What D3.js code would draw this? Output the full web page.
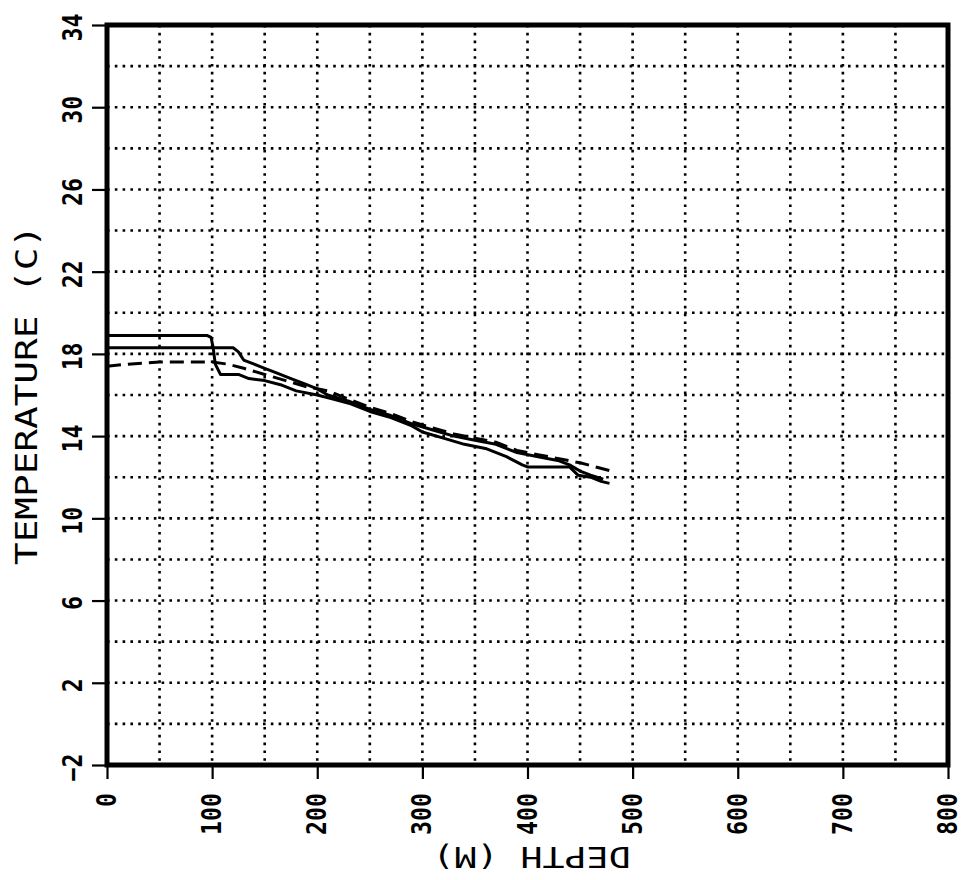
<!DOCTYPE html>
<html><head><meta charset="utf-8">
<script src="https://cdn.jsdelivr.net/npm/d3@7"></script>
<style>body{margin:0;background:#fff}svg{display:block}</style>
</head><body><svg id="c" width="963" height="880"></svg>
<script>
// ---- data ----
const depthTicks = [0,100,200,300,400,500,600,700,800];
const tempTicks = [-2,2,6,10,14,18,22,26,30,34];
const depthGrid = d3.range(0, 801, 50);
const tempGrid = d3.range(-2, 35, 2);
const xTitle = "DEPTH (M)";
const yTitle = "TEMPERATURE (C)";
// series as [depth, temperature]
const seriesA = [[0,18.9],[95,18.9],[99,18.8],[101,18.3],[103,17.5],[108,17.0],[125,17.0],[135,16.8],[150,16.7],[165,16.5],[180,16.2],[200,16.0],[215,15.8],[230,15.6],[250,15.2],[270,14.9],[290,14.5],[300,14.2],[320,13.9],[340,13.6],[360,13.4],[380,13.0],[395,12.6],[400,12.5],[440,12.5],[448,12.1],[460,12.0],[470,11.8],[478,11.7]];
const seriesB = [[0,18.3],[120,18.3],[125,18.1],[130,17.7],[140,17.5],[150,17.3],[160,17.1],[175,16.8],[190,16.5],[200,16.3],[210,16.0],[230,15.7],[250,15.3],[270,15.0],[290,14.6],[310,14.3],[330,14.0],[350,13.8],[370,13.6],[390,13.2],[410,13.0],[430,12.8],[440,12.6],[450,12.3],[460,12.1],[472,11.9]];
const seriesDashed = [[0,17.4],[20,17.5],[50,17.6],[100,17.6],[115,17.5],[130,17.3],[150,17.0],[170,16.7],[190,16.4],[210,16.2],[230,15.8],[250,15.4],[270,15.1],[290,14.7],[310,14.4],[330,14.1],[350,13.9],[370,13.7],[390,13.3],[410,13.1],[430,12.9],[450,12.7],[465,12.5],[480,12.3]];

// ---- layout ----
const L = 107, R = 948, T = 25, B = 765;
const svg = d3.select("#c");
const x = d3.scaleLinear().domain([0, 800]).range([L, R]);
const y = d3.scaleLinear().domain([-2, 34]).range([B, T]);
const FONT = "'DejaVu Sans Mono', 'Liberation Mono', monospace";

// grid
const grid = svg.append("g").attr("stroke", "#000").attr("stroke-width", 2.6)
  .attr("stroke-dasharray", "2.6,5.2").attr("fill", "none");
grid.selectAll("line.v").data(depthGrid.filter(d => d > 0 && d < 800)).join("line")
  .attr("x1", d => x(d)).attr("x2", d => x(d)).attr("y1", T).attr("y2", B);
grid.selectAll("line.h").data(tempGrid.filter(d => d > -2 && d < 34)).join("line")
  .attr("x1", L).attr("x2", R).attr("y1", d => y(d)).attr("y2", d => y(d));

// data lines
const line = d3.line().x(d => x(d[0])).y(d => y(d[1]));
svg.append("path").datum(seriesA).attr("d", line).attr("fill", "none")
  .attr("stroke", "#000").attr("stroke-width", 3).attr("stroke-linejoin", "round");
svg.append("path").datum(seriesB).attr("d", line).attr("fill", "none")
  .attr("stroke", "#000").attr("stroke-width", 3).attr("stroke-linejoin", "round");
svg.append("path").datum(seriesDashed).attr("d", line).attr("fill", "none")
  .attr("stroke", "#000").attr("stroke-width", 3).attr("stroke-dasharray", "14,7");

// axes
const xAxis = svg.append("g").attr("transform", `translate(0,${B})`)
  .call(d3.axisBottom(x).tickValues(depthTicks).tickSize(14).tickSizeOuter(0).tickFormat(d3.format("d")));
const yAxis = svg.append("g").attr("transform", `translate(${L},0)`)
  .call(d3.axisLeft(y).tickValues(tempTicks).tickSize(15).tickSizeOuter(0).tickFormat(d3.format("d")));
[xAxis, yAxis].forEach(a => {
  a.select(".domain").remove();
  a.selectAll(".tick line").attr("stroke", "#000").attr("stroke-width", 2.2);
  a.selectAll(".tick text").attr("x", 0).attr("y", 0).attr("dy", null)
    .attr("fill", "#000").style("font-family", FONT).style("font-size", "27px")
    .style("font-weight", "bold");
});
xAxis.selectAll(".tick text").attr("text-anchor", "end")
  .attr("transform", "translate(8.5,28) rotate(-90) scale(0.86,1)");
yAxis.selectAll(".tick text").attr("text-anchor", "middle")
  .attr("transform", "translate(-25,2) rotate(-90) scale(0.86,1)");

// border
svg.append("rect").attr("x", L).attr("y", T).attr("width", R - L).attr("height", B - T)
  .attr("fill", "none").attr("stroke", "#000").attr("stroke-width", 5);

// titles
svg.append("text").text(yTitle)
  .attr("transform", `translate(37,${(T + B) / 2}) rotate(-90)`)
  .attr("text-anchor", "middle").style("font-family", FONT).style("font-size", "30px")
  .attr("textLength", 340).attr("lengthAdjust", "spacingAndGlyphs");
svg.append("text").text(xTitle)
  .attr("transform", `translate(${(L + R) / 2 + 4},847) rotate(180)`)
  .attr("text-anchor", "middle").style("font-family", FONT).style("font-size", "28px")
  .attr("textLength", 198).attr("lengthAdjust", "spacingAndGlyphs");
</script>
</body></html>
